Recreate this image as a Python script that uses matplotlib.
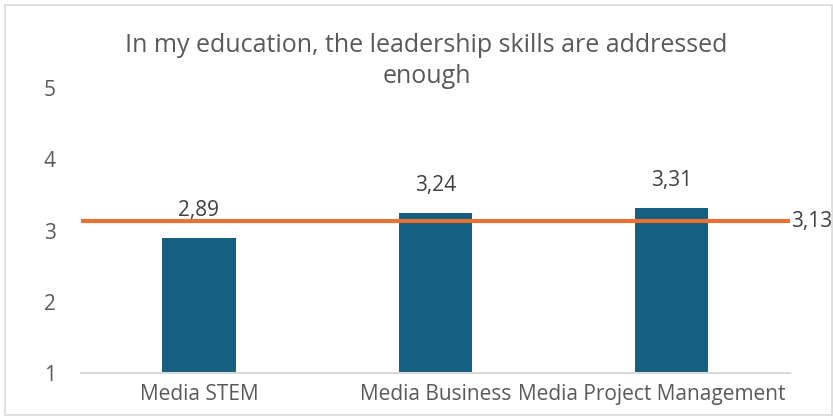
import matplotlib.pyplot as plt
from matplotlib.patches import Rectangle
from matplotlib.transforms import ScaledTranslation

plt.rcParams['font.family'] = ['Open Sans', 'DejaVu Sans']

# data
categories = ['Media STEM', 'Media Business', 'Media Project Management']
scores = [2.89, 3.24, 3.31]
overall_mean = 3.13
y_ticks = [1, 2, 3, 4, 5]
title = 'In my education, the leadership skills are addressed\nenough'

bar_color = '#156082'
line_color = '#E97132'
text_color = '#595959'

fig = plt.figure(figsize=(8.33, 4.17), dpi=100)
ax = fig.add_axes([0.097, 0.105, 0.851, 0.684])

x = range(len(categories))
ax.bar(x, scores, width=0.31, color=bar_color, bottom=0, zorder=2)

# average line across the whole plot width
ax.plot([-0.5, len(categories) - 0.5], [overall_mean, overall_mean],
        color=line_color, lw=3, solid_capstyle='butt', zorder=3, clip_on=False)
ax.annotate(f'{overall_mean:.2f}'.replace('.', ','), (len(categories) - 0.5, overall_mean),
            xytext=(1, 0), textcoords='offset points', ha='left', va='center',
            fontsize=15, color='#404040', annotation_clip=False)

# value labels above bars
for i, v in enumerate(scores):
    ax.annotate(f'{v:.2f}'.replace('.', ','), (i, v), xytext=(0, 20),
                textcoords='offset points', ha='center', va='center',
                fontsize=15, color='#404040', zorder=4)

ax.set_xlim(-0.5, len(categories) - 0.5)
ax.set_ylim(1, 5)
ax.set_yticks(y_ticks)
ax.set_xticks(list(x))
ax.set_xticklabels(categories)
ax.tick_params(axis='both', length=0, labelsize=15, colors=text_color)
ax.tick_params(axis='y', pad=18)
ax.tick_params(axis='x', pad=8)

# keep the last category label inside the chart frame
last = ax.get_xticklabels()[-1]
last.set_transform(last.get_transform() + ScaledTranslation(-0.2, 0, fig.dpi_scale_trans))

for side in ['top', 'right', 'left']:
    ax.spines[side].set_visible(False)
ax.spines['bottom'].set_color('#d9d9d9')
ax.spines['bottom'].set_linewidth(1.5)

fig.text(0.512, 0.854, title, ha='center', va='center', fontsize=18,
         color=text_color, linespacing=1.3)

# chart frame
fig.patches.append(Rectangle((0.006, 0.004), 0.993, 0.985, transform=fig.transFigure,
                             fill=False, edgecolor='#d9d9d9', lw=1.2))

fig.savefig('out.png', dpi=100)
